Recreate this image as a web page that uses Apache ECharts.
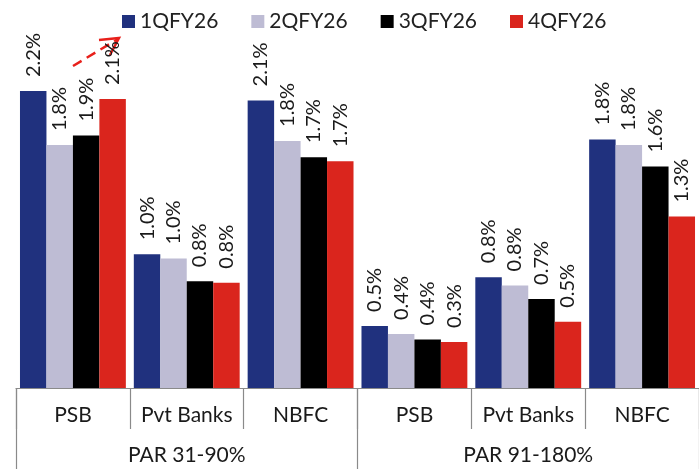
<!DOCTYPE html>
<html>
<head>
<meta charset="utf-8">
<script src="https://cdn.jsdelivr.net/npm/echarts@6/dist/echarts.min.js"></script>
<style>
  html, body { margin: 0; padding: 0; background: #fff; }
  #chart { width: 699px; height: 470px; }
</style>
</head>
<body>
<div id="chart"></div>
<script>
// Segment categories (lower level) and PAR buckets (upper level)
const categories = ['PSB', 'Pvt Banks', 'NBFC', 'PSB', 'Pvt Banks', 'NBFC'];
const buckets = ['PAR 31-90%', 'PAR 91-180%'];
const seriesNames = ['1QFY26', '2QFY26', '3QFY26', '4QFY26'];

// Portfolio-at-risk share, % of AUM
const q1FY26 = [2.20, 0.99, 2.13, 0.46, 0.82, 1.84];
const q2FY26 = [1.80, 0.96, 1.83, 0.40, 0.76, 1.80];
const q3FY26 = [1.87, 0.79, 1.71, 0.36, 0.66, 1.64];
const q4FY26 = [2.14, 0.78, 1.68, 0.34, 0.49, 1.27];

const colors = ['#20317e', '#bebcd4', '#000000', '#da251d'];
const font = 'Lato, "Open Sans", sans-serif';

function barSeries(name, data, color) {
  return {
    name: name,
    type: 'bar',
    data: data,
    barGap: '0%',
    barCategoryGap: '7%',
    itemStyle: { color: color },
    label: {
      show: true,
      position: 'top',
      rotate: 90,
      align: 'left',
      verticalAlign: 'middle',
      distance: 14,
      color: '#1a1a1a',
      fontFamily: font,
      fontSize: 20,
      formatter: p => p.value.toFixed(1) + '%'
    }
  };
}

const chart = echarts.init(document.getElementById('chart'));
chart.setOption({
  animation: false,
  color: colors,
  legend: {
    top: 11,
    left: 122,
    padding: 0,
    icon: 'rect',
    itemWidth: 13,
    itemHeight: 13,
    itemGap: 33,
    textStyle: { fontFamily: font, fontSize: 21, color: '#222' },
    data: seriesNames
  },
  grid: { left: 16, right: -7, top: 50.5, bottom: 82, containLabel: false },
  xAxis: [
    {
      type: 'category',
      data: categories,
      axisLine: { show: true, lineStyle: { color: '#8a8a8a', width: 1 } },
      axisTick: { show: true, interval: 0, length: 41, lineStyle: { color: '#8a8a8a', width: 1.2 } },
      axisLabel: { interval: 0, margin: 17, fontFamily: font, fontSize: 21, color: '#1a1a1a' }
    },
    {
      type: 'category',
      data: buckets,
      position: 'bottom',
      axisLine: { show: false },
      axisTick: { show: true, interval: 0, length: 81, lineStyle: { color: '#8a8a8a', width: 1.2 } },
      axisLabel: { interval: 0, margin: 57, fontFamily: font, fontSize: 21, color: '#1a1a1a' }
    }
  ],
  yAxis: { type: 'value', min: 0, max: 2.5, show: false },
  series: [
    barSeries(seriesNames[0], q1FY26, colors[0]),
    barSeries(seriesNames[1], q2FY26, colors[1]),
    barSeries(seriesNames[2], q3FY26, colors[2]),
    barSeries(seriesNames[3], q4FY26, colors[3])
  ],
  graphic: [
    {
      type: 'line',
      shape: { x1: 73, y1: 66, x2: 118, y2: 39 },
      style: { stroke: '#e8201b', lineWidth: 2.5, lineDash: [10, 6] }
    },
    {
      type: 'polyline',
      shape: { points: [[99, 40], [119, 38], [110, 55]] },
      style: { stroke: '#e8201b', lineWidth: 2.5, fill: null }
    }
  ]
});
</script>
</body>
</html>
